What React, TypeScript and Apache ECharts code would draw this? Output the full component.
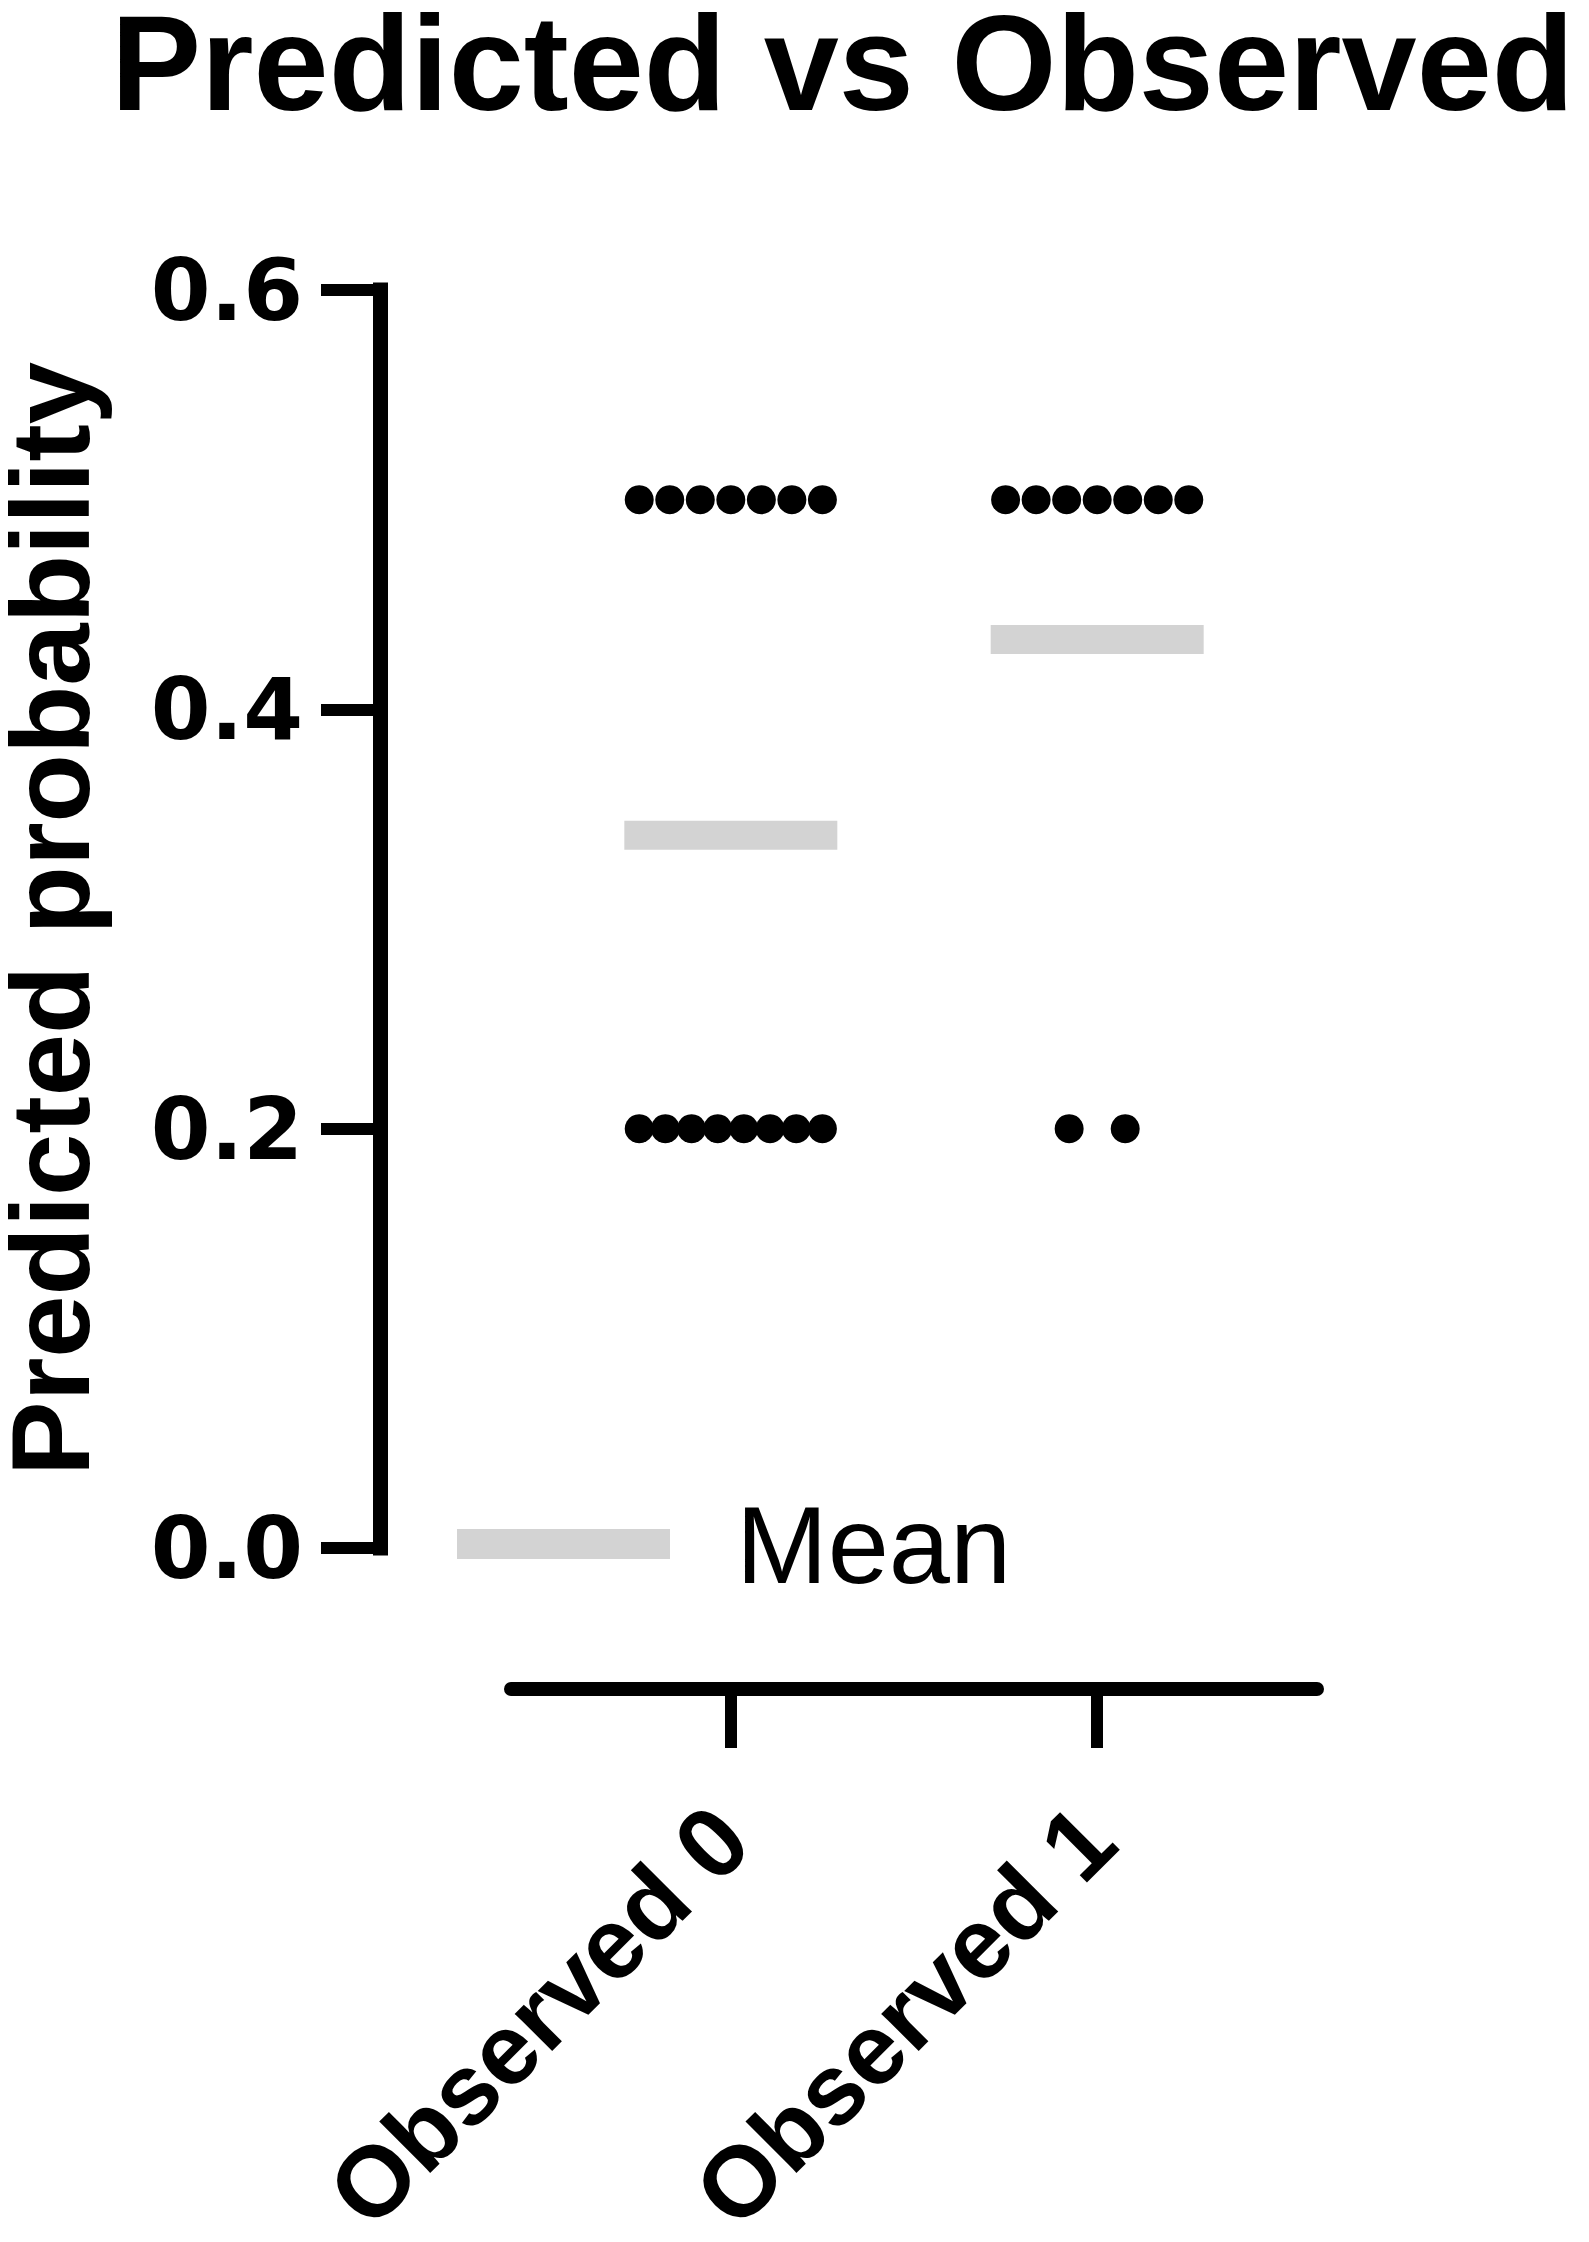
import React, { useEffect, useRef } from "react";
import * as echarts from "echarts";

const titleText = "Predicted vs Observed";
const yAxisTitle = "Predicted probability";
const categories = ["Observed 0", "Observed 1"];
const observed0 = [0.5, 0.5, 0.5, 0.5, 0.5, 0.5, 0.5, 0.2, 0.2, 0.2, 0.2, 0.2, 0.2, 0.2, 0.2];
const observed1 = [0.5, 0.5, 0.5, 0.5, 0.5, 0.5, 0.5, 0.2, 0.2];
const groups = [observed0, observed1];
const yTicks = [0, 0.2, 0.4, 0.6];
const legendLabel = "Mean";

// layout constants (pixels per x unit, max spread)
const PX_PER_UNIT = 366;
const MAX_SPREAD_PX = 183;
const MAX_STEP_PX = 56;

function spreadPoints(values: number[], catIndex: number): number[][] {
  const counts = new Map<number, number>();
  values.forEach((v) => counts.set(v, (counts.get(v) || 0) + 1));
  const seen = new Map<number, number>();
  const pts: number[][] = [];
  values.forEach((v) => {
    const n = counts.get(v) || 1;
    const k = seen.get(v) || 0;
    seen.set(v, k + 1);
    const step = n > 1 ? Math.min(MAX_STEP_PX, MAX_SPREAD_PX / (n - 1)) : 0;
    const offPx = (k - (n - 1) / 2) * step;
    pts.push([catIndex + offPx / PX_PER_UNIT, v]);
  });
  return pts;
}

const mean = (a: number[]) => a.reduce((s, v) => s + v, 0) / a.length;

export default function App() {
  const ref = useRef<HTMLDivElement>(null);
  useEffect(() => {
    if (!ref.current) return;
    const chart = echarts.init(ref.current, undefined, { renderer: "svg" });
    const dots: number[][] = [];
    groups.forEach((g, i) => dots.push(...spreadPoints(g, i)));
    const means = groups.map((g, i) => [i, mean(g)]);
    const sans = "Liberation Sans";
    chart.setOption({
      animation: false,
      backgroundColor: "#ffffff",
      title: {
        text: titleText,
        left: 111,
        top: -4,
        padding: 0,
        textStyle: { fontFamily: sans, fontWeight: "bold", fontSize: 135, color: "#000" },
      },
      legend: {
        data: [legendLabel],
        left: 452,
        top: 1479,
        icon: "rect",
        itemWidth: 213,
        itemHeight: 30,
        selectedMode: false,
        textStyle: {
          fontFamily: sans,
          fontSize: 110,
          color: "#000",
          lineHeight: 120,
          padding: [0, 0, 0, 61],
        },
      },
      grid: { left: 511, right: 272, top: 290, bottom: 694, containLabel: false, outerBoundsMode: "none" },
      xAxis: {
        type: "value",
        min: -0.6,
        max: 1.6,
        offset: 141,
        splitLine: { show: false },
        axisLine: { show: true, onZero: false, lineStyle: { color: "#000", width: 14 } },
        axisTick: {
          show: true,
          length: 59,
          lineStyle: { color: "#000", width: 12 },
          customValues: [0, 1],
        },
        axisLabel: {
          customValues: [0, 1],
          formatter: (v: number) => categories[Math.round(v)] ?? "",
          rotate: 45,
          margin: 134,
          fontFamily: sans,
          fontWeight: "bold",
          fontSize: 100,
          color: "#000",
        },
      },
      yAxis: {
        type: "value",
        min: 0,
        max: 0.6,
        interval: 0.2,
        offset: 131,
        name: yAxisTitle,
        nameLocation: "middle",
        nameRotate: 90,
        nameGap: 274,
        nameTextStyle: { fontFamily: sans, fontWeight: "bold", fontSize: 112, color: "#000" },
        splitLine: { show: false },
        axisLine: { show: true, onZero: false, lineStyle: { color: "#000", width: 15, cap: "square" } },
        axisTick: { show: true, length: 59, lineStyle: { color: "#000", width: 12 } },
        axisLabel: {
          margin: 77,
          formatter: (v: number) => (yTicks.includes(Math.round(v * 10) / 10) ? v.toFixed(1) : ""),
          fontFamily: "DejaVu Sans",
          fontWeight: "bold",
          fontSize: 86,
          color: "#000",
        },
      },
      series: [
        {
          name: legendLabel,
          type: "scatter",
          data: means,
          symbol: "rect",
          symbolSize: [213, 29],
          itemStyle: { color: "#d3d3d3", opacity: 1 },
          z: 1,
        },
        {
          name: "Points",
          type: "scatter",
          data: dots,
          symbol: "circle",
          symbolSize: 29,
          itemStyle: { color: "#000", opacity: 1 },
          z: 2,
        },
      ],
    });
    return () => chart.dispose();
  }, []);
  return (
    <div
      ref={ref}
      style={{ position: "absolute", left: 0, top: 0, width: 1589, height: 2242, background: "#fff" }}
    />
  );
}
